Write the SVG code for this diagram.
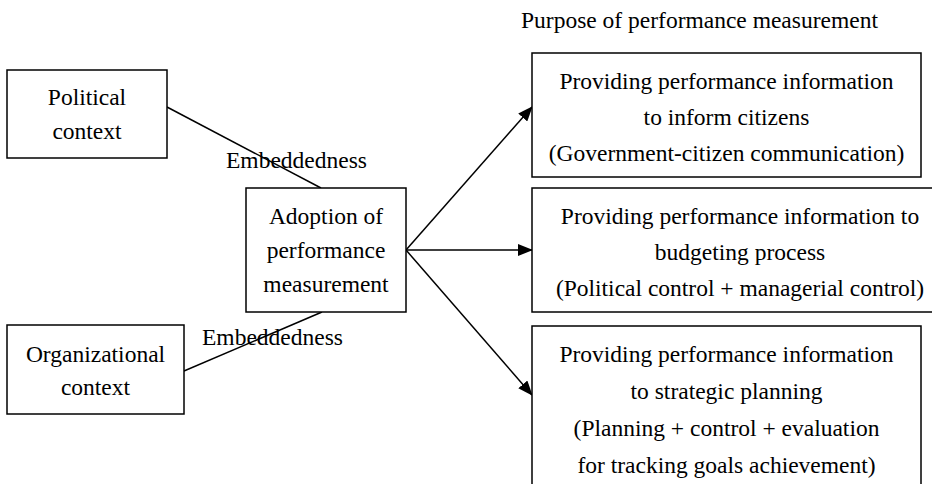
<svg xmlns="http://www.w3.org/2000/svg" width="932" height="484" viewBox="0 0 932 484">
  <style>
    .box { fill: #ffffff; stroke: #000000; stroke-width: 1.5; }
    .txt { font-family: "Liberation Serif", "Times New Roman", serif; font-size: 23.5px; fill: #000000; }
    .mid { text-anchor: middle; }
    .link { fill: none; stroke: #000000; stroke-width: 1.5; }
  </style>
  <defs>
    <marker id="arrow" markerUnits="userSpaceOnUse" markerWidth="15" markerHeight="12" refX="14" refY="6" orient="auto">
      <path d="M0,0 L15,6 L0,12 Z" fill="#000000"/>
    </marker>
  </defs>
  <rect width="932" height="484" fill="#ffffff"/>

  <g id="connectors">
    <line class="link" x1="167" y1="107" x2="321" y2="188"/>
    <line class="link" x1="322" y1="312" x2="184" y2="371"/>
    <line class="link" x1="406" y1="250" x2="532" y2="107" marker-end="url(#arrow)"/>
    <line class="link" x1="406" y1="250" x2="532" y2="250" marker-end="url(#arrow)"/>
    <line class="link" x1="406" y1="250" x2="532" y2="395" marker-end="url(#arrow)"/>
  </g>

  <text class="txt" x="226" y="168">Embeddedness</text>
  <text class="txt" x="202" y="345">Embeddedness</text>
  <text class="txt" x="521" y="28">Purpose of performance measurement</text>

  <g id="political-context">
    <rect class="box" x="7" y="70" width="160" height="88"/>
    <text class="txt mid" x="87" y="105">Political</text>
    <text class="txt mid" x="87" y="139">context</text>
  </g>

  <g id="organizational-context">
    <rect class="box" x="7" y="325" width="177" height="89"/>
    <text class="txt mid" x="95.5" y="362">Organizational</text>
    <text class="txt mid" x="95.5" y="395">context</text>
  </g>

  <g id="adoption">
    <rect class="box" x="246" y="188" width="160" height="124"/>
    <text class="txt mid" x="326" y="224">Adoption of</text>
    <text class="txt mid" x="326" y="258">performance</text>
    <text class="txt mid" x="326" y="292">measurement</text>
  </g>

  <g id="inform-citizens">
    <rect class="box" x="532" y="53" width="389" height="124"/>
    <text class="txt mid" x="726.5" y="89">Providing performance information</text>
    <text class="txt mid" x="726.5" y="125">to inform citizens</text>
    <text class="txt mid" x="726.5" y="161">(Government-citizen communication)</text>
  </g>

  <g id="budgeting-process">
    <rect class="box" x="532" y="188" width="416" height="124"/>
    <text class="txt mid" x="740" y="224">Providing performance information to</text>
    <text class="txt mid" x="740" y="260">budgeting process</text>
    <text class="txt mid" x="740" y="296">(Political control + managerial control)</text>
  </g>

  <g id="strategic-planning">
    <rect class="box" x="532" y="326" width="389" height="180"/>
    <text class="txt mid" x="726.5" y="362">Providing performance information</text>
    <text class="txt mid" x="726.5" y="399">to strategic planning</text>
    <text class="txt mid" x="726.5" y="436">(Planning + control + evaluation</text>
    <text class="txt mid" x="726.5" y="473">for tracking goals achievement)</text>
  </g>
</svg>
